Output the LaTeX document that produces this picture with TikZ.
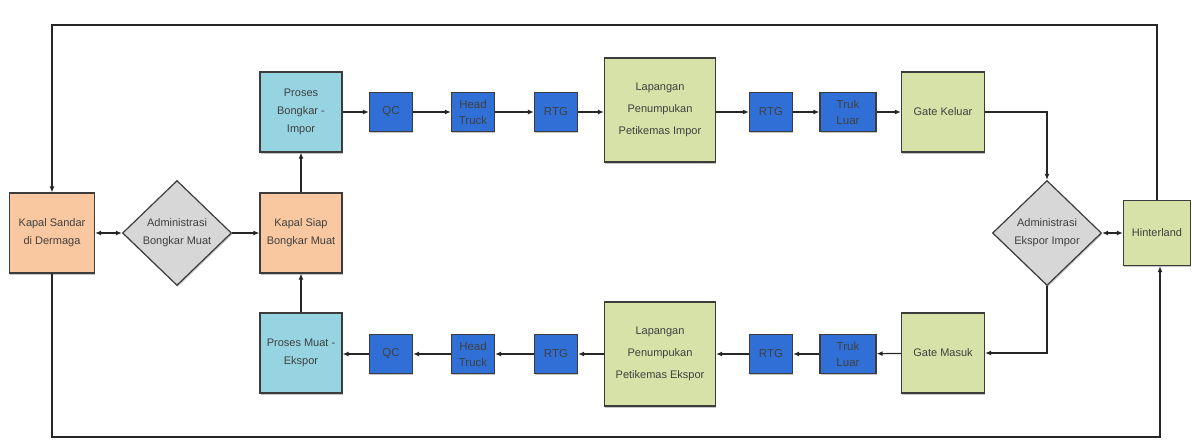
\documentclass[tikz,border=0pt]{standalone}
\usepackage{fontspec}
\setmainfont{Liberation Sans}
\usetikzlibrary{shapes.geometric,arrows.meta,shadows}
\definecolor{peach}{RGB}{250,200,160}
\definecolor{dgray}{RGB}{215,215,215}
\definecolor{lblue}{RGB}{150,212,226}
\definecolor{dblue}{RGB}{48,112,214}
\definecolor{lgreen}{RGB}{214,226,168}
\definecolor{edge}{RGB}{60,60,60}
\begin{document}
\begin{tikzpicture}[x=1pt,y=-1pt,
  base/.style={draw=edge,line width=1.2pt,align=center,inner sep=1pt,
    font=\fontsize{11}{18}\selectfont,text=black!75,
    drop shadow={shadow xshift=0.8pt,shadow yshift=-1.6pt,opacity=0.45}},
  orbox/.style={base,fill=peach,minimum width=85pt,minimum height=80pt},
  lbbox/.style={base,fill=lblue,minimum width=82pt,minimum height=80pt},
  dbbox/.style={base,fill=dblue,minimum width=43pt,minimum height=39pt,font=\fontsize{11.5}{16}\selectfont},
  dbwide/.style={dbbox,minimum width=56pt},
  grbig/.style={base,fill=lgreen,minimum width=111pt,minimum height=104pt,font=\fontsize{11}{22}\selectfont},
  grbox/.style={base,fill=lgreen,minimum width=83pt,minimum height=80pt},
  dia/.style={base,diamond,fill=dgray,minimum width=109pt,minimum height=105pt,inner sep=0pt},
  arr/.style={draw=black!85,line width=1.2pt,-{Latex[length=6pt,width=5pt]}},
  darr/.style={draw=black!85,line width=1.2pt,{Latex[length=6pt,width=5pt]}-{Latex[length=6pt,width=5pt]}},
  frame/.style={draw=black!85,line width=1.6pt,-{Latex[length=6pt,width=5pt]}}
]
\useasboundingbox (0,0) rectangle (1192,441);
% left column
\node[orbox] (ks) at (52,233) {Kapal Sandar\\di Dermaga};
\node[dia] (abm) at (177,233) {Administrasi\\Bongkar Muat};
\node[orbox,minimum width=82pt] (ksb) at (301,233) {Kapal Siap\\Bongkar Muat};
\node[lbbox] (pbi) at (301,112) {Proses\\Bongkar -\\Impor};
\node[lbbox] (pme) at (301,353) {Proses Muat -\\Ekspor};
% top row
\node[dbbox] (qc1) at (391,112) {QC};
\node[dbbox] (ht1) at (473,112) {Head\\Truck};
\node[dbbox] (rtg1) at (556,112) {RTG};
\node[grbig] (lpi) at (660,110) {Lapangan\\Penumpukan\\Petikemas Impor};
\node[dbbox] (rtg2) at (771,112) {RTG};
\node[dbwide] (tl1) at (848,112) {Truk\\Luar};
\node[grbox] (gk) at (943,112) {Gate Keluar};
% right
\node[dia] (aei) at (1047,233) {Administrasi\\Ekspor Impor};
\node[base,fill=lgreen,minimum width=67pt,minimum height=65pt] (hin) at (1157,233) {Hinterland};
% bottom row
\node[dbbox] (qc2) at (391,354) {QC};
\node[dbbox] (ht2) at (473,354) {Head\\Truck};
\node[dbbox] (rtg3) at (556,354) {RTG};
\node[grbig] (lpe) at (660,354) {Lapangan\\Penumpukan\\Petikemas Ekspor};
\node[dbbox] (rtg4) at (771,354) {RTG};
\node[dbwide] (tl2) at (848,354) {Truk\\Luar};
\node[grbox] (gm) at (943,353) {Gate Masuk};
% connectors
\draw[darr] (ks) -- (abm);
\draw[arr] (abm) -- (ksb);
\draw[arr] (ksb) -- (pbi);
\draw[arr] (pme) -- (ksb);
\draw[arr] (pbi) -- (qc1);
\draw[arr] (qc1) -- (ht1);
\draw[arr] (ht1) -- (rtg1);
\draw[arr] (rtg1) -- (rtg1 -| lpi.west);
\draw[arr] (lpi.east |- rtg2) -- (rtg2);
\draw[arr] (rtg2) -- (tl1);
\draw[arr] (tl1) -- (gk);
\draw[arr] (gk.east) -| (aei.north);
\draw[darr] (aei) -- (hin);
\draw[arr] (aei.south) |- (gm.east);
\draw[arr] (gm) -- (tl2);
\draw[arr] (tl2) -- (rtg4);
\draw[arr] (rtg4) -- (rtg4 -| lpe.east);
\draw[arr] (lpe.west |- rtg3) -- (rtg3);
\draw[arr] (rtg3) -- (ht2);
\draw[arr] (ht2) -- (qc2);
\draw[arr] (qc2) -- (qc2 -| pme.east);
\draw[frame] (hin.north) |- (52,25) -- (ks.north);
\draw[frame] (ks.south) |- (1160,437) -- (hin.south -| 1160,0);
\end{tikzpicture}
\end{document}
